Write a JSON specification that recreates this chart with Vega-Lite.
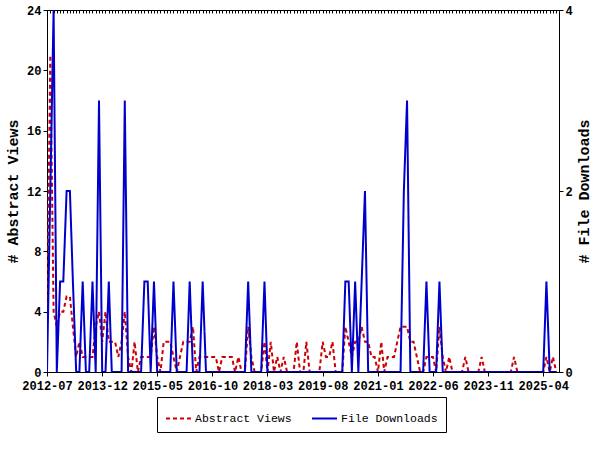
{
  "$schema": "https://vega.github.io/schema/vega-lite/v6.json",
  "width": 512,
  "height": 362,
  "autosize": "none",
  "padding": {"left": 47, "top": 10, "right": 41, "bottom": 78},
  "background": "white",
  "config": {
    "view": {"stroke": "black", "strokeWidth": 1},
    "axis": {
      "labelFont": "Liberation Mono", "labelFontWeight": "bold", "labelFontSize": 12, "labelColor": "black",
      "titleFont": "Liberation Mono", "titleFontWeight": "bold", "titleFontSize": 15, "titleColor": "black",
      "domainColor": "black", "tickColor": "black", "grid": false
    }
  },
  "data": {"values": [
    {"m":"2012-07-01","v":3,"d":0},{"m":"2012-08-01","v":21,"d":2},{"m":"2012-09-01","v":4,"d":4},{"m":"2012-10-01","v":3,"d":0},{"m":"2012-11-01","v":4,"d":1},{"m":"2012-12-01","v":4,"d":1},
    {"m":"2013-01-01","v":5,"d":2},{"m":"2013-02-01","v":5,"d":2},{"m":"2013-03-01","v":3,"d":1},{"m":"2013-04-01","v":1,"d":0},{"m":"2013-05-01","v":2,"d":0},{"m":"2013-06-01","v":1,"d":1},
    {"m":"2013-07-01","v":1,"d":0},{"m":"2013-08-01","v":1,"d":0},{"m":"2013-09-01","v":1,"d":1},{"m":"2013-10-01","v":3,"d":0},{"m":"2013-11-01","v":4,"d":3},{"m":"2013-12-01","v":2,"d":0},
    {"m":"2014-01-01","v":4,"d":0},{"m":"2014-02-01","v":2,"d":1},{"m":"2014-03-01","v":2,"d":0},{"m":"2014-04-01","v":2,"d":0},{"m":"2014-05-01","v":1,"d":0},{"m":"2014-06-01","v":2,"d":0},
    {"m":"2014-07-01","v":4,"d":3},{"m":"2014-08-01","v":1,"d":0},{"m":"2014-09-01","v":0,"d":0},{"m":"2014-10-01","v":2,"d":0},{"m":"2014-11-01","v":0,"d":0},{"m":"2014-12-01","v":1,"d":0},
    {"m":"2015-01-01","v":1,"d":1},{"m":"2015-02-01","v":1,"d":1},{"m":"2015-03-01","v":1,"d":0},{"m":"2015-04-01","v":3,"d":1},{"m":"2015-05-01","v":1,"d":0},{"m":"2015-06-01","v":0,"d":0},
    {"m":"2015-07-01","v":2,"d":0},{"m":"2015-08-01","v":2,"d":0},{"m":"2015-09-01","v":2,"d":0},{"m":"2015-10-01","v":1,"d":1},{"m":"2015-11-01","v":0,"d":0},{"m":"2015-12-01","v":1,"d":0},
    {"m":"2016-01-01","v":2,"d":0},{"m":"2016-02-01","v":2,"d":0},{"m":"2016-03-01","v":2,"d":1},{"m":"2016-04-01","v":3,"d":0},{"m":"2016-05-01","v":0,"d":0},{"m":"2016-06-01","v":1,"d":0},
    {"m":"2016-07-01","v":1,"d":1},{"m":"2016-08-01","v":1,"d":0},{"m":"2016-09-01","v":1,"d":0},{"m":"2016-10-01","v":1,"d":0},{"m":"2016-11-01","v":1,"d":0},{"m":"2016-12-01","v":0,"d":0},
    {"m":"2017-01-01","v":1,"d":0},{"m":"2017-02-01","v":1,"d":0},{"m":"2017-03-01","v":1,"d":0},{"m":"2017-04-01","v":1,"d":0},{"m":"2017-05-01","v":0,"d":0},{"m":"2017-06-01","v":1,"d":0},
    {"m":"2017-07-01","v":0,"d":0},{"m":"2017-08-01","v":0,"d":0},{"m":"2017-09-01","v":3,"d":1},{"m":"2017-10-01","v":1,"d":0},{"m":"2017-11-01","v":0,"d":0},{"m":"2017-12-01","v":0,"d":0},
    {"m":"2018-01-01","v":0,"d":0},{"m":"2018-02-01","v":2,"d":1},{"m":"2018-03-01","v":0,"d":0},{"m":"2018-04-01","v":2,"d":0},{"m":"2018-05-01","v":0,"d":0},{"m":"2018-06-01","v":1,"d":0},
    {"m":"2018-07-01","v":0,"d":0},{"m":"2018-08-01","v":1,"d":0},{"m":"2018-09-01","v":0,"d":0},{"m":"2018-10-01","v":0,"d":0},{"m":"2018-11-01","v":0,"d":0},{"m":"2018-12-01","v":2,"d":0},
    {"m":"2019-01-01","v":0,"d":0},{"m":"2019-02-01","v":0,"d":0},{"m":"2019-03-01","v":2,"d":0},{"m":"2019-04-01","v":0,"d":0},{"m":"2019-05-01","v":0,"d":0},{"m":"2019-06-01","v":0,"d":0},
    {"m":"2019-07-01","v":0,"d":0},{"m":"2019-08-01","v":2,"d":0},{"m":"2019-09-01","v":1,"d":0},{"m":"2019-10-01","v":1,"d":0},{"m":"2019-11-01","v":2,"d":0},{"m":"2019-12-01","v":0,"d":0},
    {"m":"2020-01-01","v":0,"d":0},{"m":"2020-02-01","v":0,"d":0},{"m":"2020-03-01","v":3,"d":1},{"m":"2020-04-01","v":2,"d":1},{"m":"2020-05-01","v":1,"d":0},{"m":"2020-06-01","v":2,"d":1},
    {"m":"2020-07-01","v":2,"d":0},{"m":"2020-08-01","v":3,"d":1},{"m":"2020-09-01","v":2,"d":2},{"m":"2020-10-01","v":2,"d":0},{"m":"2020-11-01","v":1,"d":0},{"m":"2020-12-01","v":1,"d":0},
    {"m":"2021-01-01","v":0,"d":0},{"m":"2021-02-01","v":2,"d":0},{"m":"2021-03-01","v":0,"d":0},{"m":"2021-04-01","v":1,"d":0},{"m":"2021-05-01","v":1,"d":0},{"m":"2021-06-01","v":1,"d":0},
    {"m":"2021-07-01","v":2,"d":0},{"m":"2021-08-01","v":3,"d":0},{"m":"2021-09-01","v":3,"d":2},{"m":"2021-10-01","v":3,"d":3},{"m":"2021-11-01","v":2,"d":0},{"m":"2021-12-01","v":2,"d":0},
    {"m":"2022-01-01","v":1,"d":0},{"m":"2022-02-01","v":0,"d":0},{"m":"2022-03-01","v":0,"d":0},{"m":"2022-04-01","v":1,"d":1},{"m":"2022-05-01","v":1,"d":0},{"m":"2022-06-01","v":1,"d":0},
    {"m":"2022-07-01","v":0,"d":0},{"m":"2022-08-01","v":3,"d":1},{"m":"2022-09-01","v":1,"d":0},{"m":"2022-10-01","v":0,"d":0},{"m":"2022-11-01","v":1,"d":0},{"m":"2022-12-01","v":0,"d":0},
    {"m":"2023-01-01","v":0,"d":0},{"m":"2023-02-01","v":0,"d":0},{"m":"2023-03-01","v":0,"d":0},{"m":"2023-04-01","v":1,"d":0},{"m":"2023-05-01","v":0,"d":0},{"m":"2023-06-01","v":0,"d":0},
    {"m":"2023-07-01","v":0,"d":0},{"m":"2023-08-01","v":0,"d":0},{"m":"2023-09-01","v":1,"d":0},{"m":"2023-10-01","v":0,"d":0},{"m":"2023-11-01","v":0,"d":0},{"m":"2023-12-01","v":0,"d":0},
    {"m":"2024-01-01","v":0,"d":0},{"m":"2024-02-01","v":0,"d":0},{"m":"2024-03-01","v":0,"d":0},{"m":"2024-04-01","v":0,"d":0},{"m":"2024-05-01","v":0,"d":0},{"m":"2024-06-01","v":0,"d":0},
    {"m":"2024-07-01","v":1,"d":0},{"m":"2024-08-01","v":0,"d":0},{"m":"2024-09-01","v":0,"d":0},{"m":"2024-10-01","v":0,"d":0},{"m":"2024-11-01","v":0,"d":0},{"m":"2024-12-01","v":0,"d":0},
    {"m":"2025-01-01","v":0,"d":0},{"m":"2025-02-01","v":0,"d":0},{"m":"2025-03-01","v":0,"d":0},{"m":"2025-04-01","v":0,"d":0},{"m":"2025-05-01","v":1,"d":1},{"m":"2025-06-01","v":0,"d":0},
    {"m":"2025-07-01","v":1,"d":0},{"m":"2025-08-01","v":0,"d":0}
  ]},
  "layer": [
    {
      "mark": {"type": "line", "strokeWidth": 2, "clip": true},
      "encoding": {
        "x": {
          "field": "m", "type": "temporal",
          "scale": {"type": "utc", "domain": [{"year": 2012, "month": 7, "date": 1, "utc": true}, {"year": 2025, "month": 8, "date": 27, "utc": true}]},
          "axis": {
            "title": null, "format": "%Y-%m", "tickSize": 4, "labelPadding": 4, "labelOverlap": false, "labelFlush": false,
            "values": [
              {"year": 2012, "month": 7, "date": 1, "utc": true},
              {"year": 2013, "month": 12, "date": 1, "utc": true},
              {"year": 2015, "month": 5, "date": 1, "utc": true},
              {"year": 2016, "month": 10, "date": 1, "utc": true},
              {"year": 2018, "month": 3, "date": 1, "utc": true},
              {"year": 2019, "month": 8, "date": 1, "utc": true},
              {"year": 2021, "month": 1, "date": 1, "utc": true},
              {"year": 2022, "month": 6, "date": 1, "utc": true},
              {"year": 2023, "month": 11, "date": 1, "utc": true},
              {"year": 2025, "month": 4, "date": 1, "utc": true}
            ]
          }
        },
        "y": {
          "field": "v", "type": "quantitative",
          "scale": {"domain": [0, 24], "nice": false},
          "axis": {"orient": "left", "title": "# Abstract Views", "values": [0, 4, 8, 12, 16, 20, 24], "tickSize": 4, "labelPadding": 2, "titlePadding": 6}
        },
        "color": {
          "datum": "Abstract Views", "type": "nominal",
          "scale": {"domain": ["Abstract Views", "File Downloads"], "range": ["#cc0000", "#0000cc"]},
          "legend": {
            "orient": "none", "legendX": 110, "legendY": 387, "direction": "horizontal", "columns": 2, "title": null,
            "strokeColor": "black", "padding": 8, "symbolType": "stroke", "symbolSize": 625, "symbolStrokeWidth": 2,
            "labelFont": "Liberation Mono", "labelFontSize": 11.5, "labelFontWeight": "normal", "labelColor": "black",
            "columnPadding": 16, "labelOffset": 3
          }
        },
        "strokeDash": {
          "datum": "Abstract Views", "type": "nominal",
          "scale": {"domain": ["Abstract Views", "File Downloads"], "range": [[4, 3], [1, 0]]}
        }
      }
    },
    {
      "mark": {"type": "line", "strokeWidth": 2, "clip": true},
      "encoding": {
        "x": {
          "field": "m", "type": "temporal",
          "axis": {"title": null, "labels": false, "domain": false, "tickSize": -3, "tickCount": {"interval": "month", "step": 1}}
        },
        "y": {
          "field": "d", "type": "quantitative",
          "scale": {"domain": [0, 4], "nice": false},
          "axis": {"orient": "right", "title": "# File Downloads", "values": [0, 2, 4], "tickSize": 4, "labelPadding": 2, "titlePadding": 4, "titleAngle": 270, "titleBaseline": "top"}
        },
        "color": {"datum": "File Downloads", "type": "nominal"},
        "strokeDash": {"datum": "File Downloads", "type": "nominal"}
      }
    }
  ],
  "resolve": {"scale": {"y": "independent"}, "axis": {"x": "independent"}}
}
